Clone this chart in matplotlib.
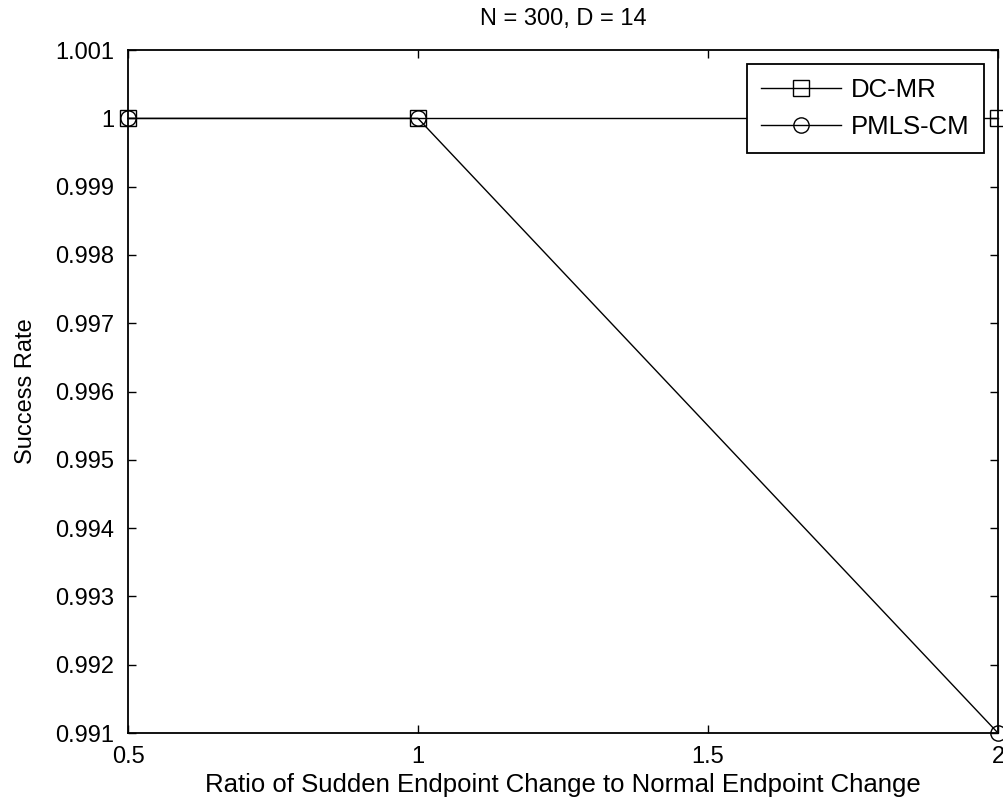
import matplotlib
matplotlib.use("Agg")
import matplotlib.pyplot as plt

plt.rcParams['font.family'] = ['Liberation Sans', 'DejaVu Sans']

ratio = [0.5, 1, 2]
dc_mr = [1.0, 1.0, 1.0]
pmls_cm = [1.0, 1.0, 0.991]
xticks = [0.5, 1, 1.5, 2]
xticklabels = ['0.5', '1', '1.5', '2']
yticks = [0.991, 0.992, 0.993, 0.994, 0.995, 0.996, 0.997, 0.998, 0.999, 1.0, 1.001]
yticklabels = ['0.991', '0.992', '0.993', '0.994', '0.995', '0.996', '0.997', '0.998', '0.999', '1', '1.001']

fig = plt.figure(figsize=(10.04, 8.08), dpi=100)
ax = fig.add_axes([0.1275, 0.0928, 0.8665, 0.8452])
ax.plot(ratio, dc_mr, color='black', lw=1, marker='s', markersize=11,
        markerfacecolor='none', markeredgecolor='black', label='DC-MR', clip_on=False)
ax.plot(ratio, pmls_cm, color='black', lw=1, marker='o', markersize=11,
        markerfacecolor='none', markeredgecolor='black', label='PMLS-CM', clip_on=False)
ax.set_xlim(0.5, 2)
ax.set_ylim(0.991, 1.001)
ax.set_xticks(xticks)
ax.set_xticklabels(xticklabels)
ax.set_yticks(yticks)
ax.set_yticklabels(yticklabels)
ax.tick_params(direction='in', length=6, labelsize=17, top=True, right=True, width=1)
ax.tick_params(axis='x', pad=9)
ax.tick_params(axis='y', pad=10)
for s in ax.spines.values():
    s.set_linewidth(1.3)
ax.set_xlabel('Ratio of Sudden Endpoint Change to Normal Endpoint Change', fontsize=18.5, labelpad=4)
ax.set_ylabel('Success Rate', fontsize=17, labelpad=13)
ax.set_title('N = 300, D = 14', fontsize=17, pad=18)
leg = ax.legend(loc='upper right', fontsize=18.5, frameon=True, fancybox=False,
                edgecolor='black', framealpha=1, handlelength=3.1, borderaxespad=0.55,
                labelspacing=0.5, handletextpad=0.4, borderpad=0.55)
leg.get_frame().set_linewidth(1.3)
fig.savefig('out.png', dpi=100)
